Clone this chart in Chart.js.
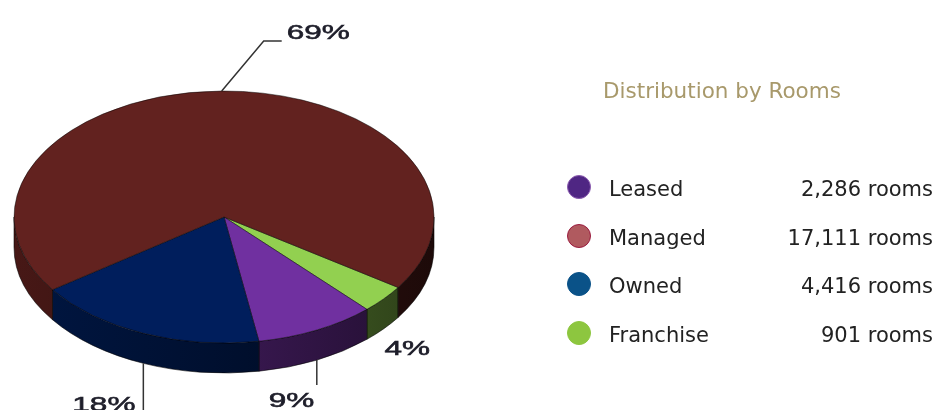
<!DOCTYPE html>
<html>
<head>
<meta charset="utf-8">
<script src="https://cdn.jsdelivr.net/npm/chart.js@4.4.1/dist/chart.umd.min.js"></script>
<style>
  html, body { margin: 0; padding: 0; background: #fff; overflow: hidden; }
  #wrap { position: relative; width: 937px; height: 410px; }
  #pie { position: absolute; left: 0; top: 0; }
  .title { position: absolute; left: 603px; top: 80px; font: 21.5px "DejaVu Sans"; line-height: 21px; color: #a8996b; white-space: nowrap; }
  .dot { position: absolute; width: 24px; height: 24px; border-radius: 50%; box-sizing: border-box; border: 1.5px solid; }
  .name, .val { position: absolute; font: 21px "DejaVu Sans"; line-height: 21px; color: #222; white-space: nowrap; }
  .name { left: 609px; }
  .val { right: 4px; }
</style>
</head>
<body>
<div id="wrap">
  <canvas id="pie" width="937" height="410"></canvas>
  <div class="title">Distribution by Rooms</div>
  <div id="legend"></div>
</div>
<script>
// data, legend order
const categories = ['Leased', 'Managed', 'Owned', 'Franchise'];
const rooms = [2286, 17111, 4416, 901];
// clockwise order the slices are drawn in (indexes into categories)
const pieOrder = [3, 0, 2, 1];

// styles
const topColors = { Leased: '#7030a0', Managed: '#62221f', Owned: '#001e5c', Franchise: '#92d050' };
const dotColors = { Leased: '#4f2683', Managed: '#b05a5f', Owned: '#0a5288', Franchise: '#8dc63f' };
const dotBorders = { Leased: '#8c5cb0', Managed: '#9b1b3f', Owned: '#0a5288', Franchise: '#8dc63f' };
const TILT = 0.6;
const DEPTH = 30;

const total = rooms.reduce((a, b) => a + b, 0);

// darken a hex colour
const shade = (hex, f) => {
  const n = parseInt(hex.slice(1), 16);
  const r = Math.round(((n >> 16) & 255) * f);
  const g = Math.round(((n >> 8) & 255) * f);
  const b = Math.round((n & 255) * f);
  return `rgb(${r},${g},${b})`;
};

// squash the pie into an ellipse and draw the rim under it
const pie3d = {
  id: 'pie3d',
  beforeDatasetsDraw(chart) {
    const ctx = chart.ctx;
    const arcs = chart.getDatasetMeta(0).data;
    const cx = arcs[0].x, cy = arcs[0].y, rx = arcs[0].outerRadius, ry = rx * TILT;
    const colors = chart.data.datasets[0].backgroundColor;
    ctx.save();
    arcs.forEach((arc, i) => {
      for (const off of [-2 * Math.PI, 0, 2 * Math.PI]) {
        const a1 = Math.max(arc.startAngle, off);
        const a2 = Math.min(arc.endAngle, off + Math.PI);
        if (a2 <= a1) continue;
        const grad = ctx.createLinearGradient(cx - rx, 0, cx + rx, 0);
        grad.addColorStop(0, shade(colors[i], 0.72));
        grad.addColorStop(1, shade(colors[i], 0.3));
        ctx.beginPath();
        ctx.ellipse(cx, cy, rx, ry, 0, a1, a2);
        ctx.ellipse(cx, cy + DEPTH, rx, ry, 0, a2, a1, true);
        ctx.closePath();
        ctx.fillStyle = grad;
        ctx.fill();
        ctx.strokeStyle = 'rgba(0,0,0,0.55)';
        ctx.lineWidth = 1;
        ctx.stroke();
      }
    });
    ctx.restore();
    ctx.save();
    ctx.translate(cx, cy);
    ctx.scale(1, TILT);
    ctx.translate(-cx, -cy);
  },
  afterDatasetsDraw(chart) {
    chart.ctx.restore();
  }
};

// percentage labels with leader lines
const labelLayout = {
  Managed: { line: [[0, 0], [42, -50], [60, -50]], text: [65, -52] },
  Leased: { line: [[0, 0], [0, 25]], text: [-48, 47] },
  Owned: { line: [[0, 0], [0, 50]], text: [-71, 48] },
  Franchise: { line: null, text: [1, 26] }
};

const pieLabels = {
  id: 'pieLabels',
  afterDraw(chart) {
    const ctx = chart.ctx;
    const meta = chart.getDatasetMeta(0);
    const ds = chart.data.datasets[0];
    meta.data.forEach((arc, i) => {
      const name = chart.data.labels[i];
      const lay = labelLayout[name];
      const m = (arc.startAngle + arc.endAngle) / 2;
      const ax = arc.x + arc.outerRadius * Math.cos(m);
      let ay = arc.y + arc.outerRadius * TILT * Math.sin(m);
      if (Math.sin(m) > 0) ay += DEPTH;
      ctx.save();
      if (lay.line) {
        ctx.beginPath();
        lay.line.forEach(([dx, dy], k) => {
          if (k === 0) ctx.moveTo(ax + dx, ay + dy);
          else ctx.lineTo(ax + dx, ay + dy);
        });
        ctx.strokeStyle = '#333';
        ctx.lineWidth = 1.5;
        ctx.stroke();
      }
      const pct = Math.round(ds.data[i] / total * 100) + '%';
      ctx.translate(ax + lay.text[0], ay + lay.text[1]);
      ctx.scale(1.5, 1);
      ctx.font = '21px "Liberation Sans"';
      ctx.fillStyle = '#1e1e2a';
      ctx.strokeStyle = '#1e1e2a';
      ctx.lineWidth = 0.6;
      ctx.textBaseline = 'alphabetic';
      ctx.fillText(pct, 0, 0);
      ctx.strokeText(pct, 0, 0);
      ctx.restore();
    });
  }
};

const pieNames = pieOrder.map((i) => categories[i]);
new Chart(document.getElementById('pie').getContext('2d'), {
  type: 'pie',
  data: {
    labels: pieNames,
    datasets: [{
      data: pieOrder.map((i) => rooms[i]),
      backgroundColor: pieNames.map((n) => topColors[n]),
      borderColor: 'rgba(0,0,0,0.6)',
      borderWidth: 1,
      hoverOffset: 0,
      radius: 210,
      clip: false
    }]
  },
  options: {
    responsive: false,
    animation: false,
    events: [],
    rotation: 124,
    layout: { padding: { left: 0, right: 489, top: 24, bottom: 0 } },
    plugins: { legend: { display: false }, tooltip: { enabled: false } }
  },
  plugins: [pie3d, pieLabels]
});

// legend on the right
const legend = document.getElementById('legend');
categories.forEach((name, i) => {
  const base = 197 + i * 48.5;
  const dot = document.createElement('div');
  dot.className = 'dot';
  dot.style.left = '567px';
  dot.style.top = (base - 22) + 'px';
  dot.style.background = dotColors[name];
  dot.style.borderColor = dotBorders[name];
  const label = document.createElement('div');
  label.className = 'name';
  label.style.top = (base - 18) + 'px';
  label.textContent = name;
  const val = document.createElement('div');
  val.className = 'val';
  val.style.top = (base - 18) + 'px';
  val.textContent = rooms[i].toLocaleString('en-US') + ' rooms';
  legend.append(dot, label, val);
});
</script>
</body>
</html>
